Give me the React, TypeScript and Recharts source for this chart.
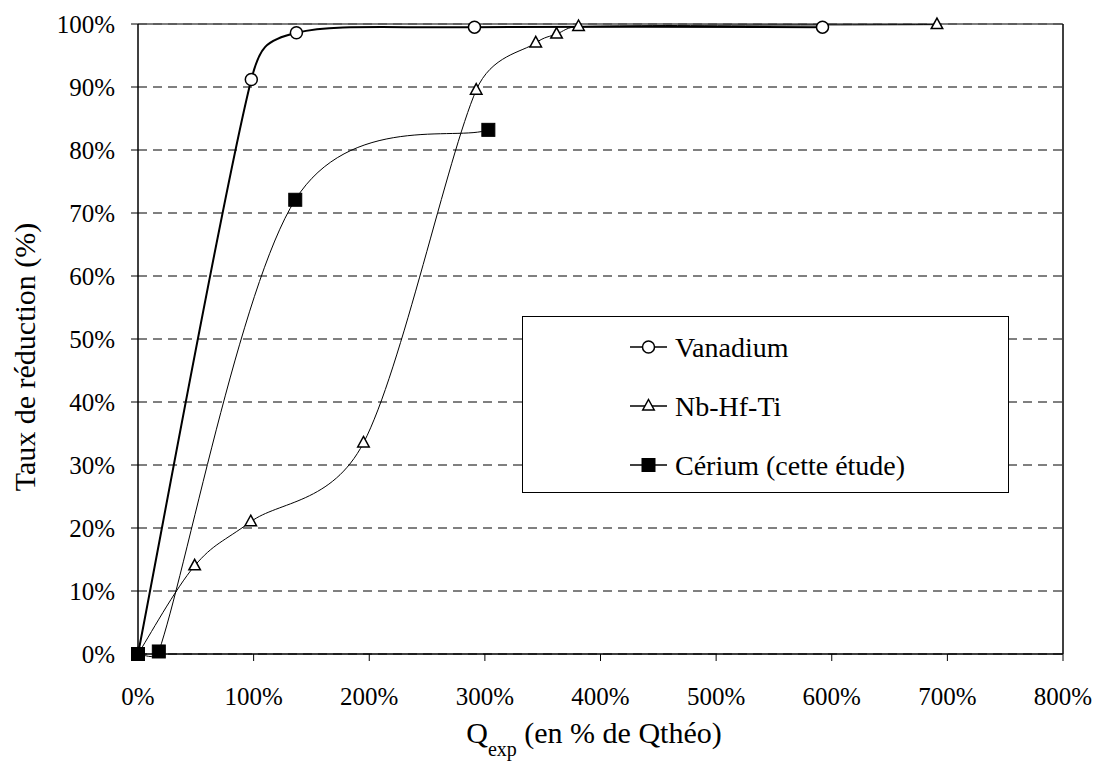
import React from 'react';
import { LineChart, Line, XAxis, YAxis, CartesianGrid, ReferenceLine, Legend } from 'recharts';

const xTicks = [0, 100, 200, 300, 400, 500, 600, 700, 800];
const yTicks = [0, 10, 20, 30, 40, 50, 60, 70, 80, 90, 100];

const vanadiumQ = [0, 98, 137, 291, 592];
const vanadiumT = [0, 91.2, 98.6, 99.5, 99.5];
const nbQ = [0, 49, 97.5, 195, 292.5, 344, 362, 381, 691];
const nbT = [0, 14, 21, 33.5, 89.5, 97, 98.4, 99.6, 99.9];
const ceQ = [0, 18, 136, 303];
const ceT = [0, 0.4, 72.1, 83.2];
const seriesNames = ['Vanadium', 'Nb-Hf-Ti', 'Cérium (cette étude)'];

const toPoints = (xs: number[], ys: number[]) => xs.map((x, i) => ({ x, y: ys[i] }));
const vanadiumData = toPoints(vanadiumQ, vanadiumT);
const nbData = toPoints(nbQ, nbT);
const ceData = toPoints(ceQ, ceT);

const FONT = 'Liberation Serif, Tinos, DejaVu Serif, Times New Roman, serif';

// Excel-like smoothing: bezier with 1/6 tangent arms, capped at half the segment length
const excelSmooth = (context: any) => {
  let pts: number[][] = [];
  const cap = (dx: number, dy: number, maxLen: number) => {
    const len = Math.hypot(dx, dy);
    if (len > maxLen && len > 0) {
      const s = maxLen / len;
      return [dx * s, dy * s];
    }
    return [dx, dy];
  };
  return {
    areaStart() {},
    areaEnd() {},
    lineStart() {
      pts = [];
    },
    lineEnd() {
      const n = pts.length;
      if (!n) return;
      context.moveTo(pts[0][0], pts[0][1]);
      for (let i = 0; i < n - 1; i++) {
        const p0 = pts[i > 0 ? i - 1 : i];
        const p1 = pts[i];
        const p2 = pts[i + 1];
        const p3 = pts[i + 2 < n ? i + 2 : i + 1];
        const seg = Math.hypot(p2[0] - p1[0], p2[1] - p1[1]);
        const a1 = cap((p2[0] - p0[0]) / 6, (p2[1] - p0[1]) / 6, seg / 2);
        const a2 = cap((p3[0] - p1[0]) / 6, (p3[1] - p1[1]) / 6, seg / 2);
        context.bezierCurveTo(p1[0] + a1[0], p1[1] + a1[1], p2[0] - a2[0], p2[1] - a2[1], p2[0], p2[1]);
      }
    },
    point(x: number, y: number) {
      pts.push([+x, +y]);
    },
  };
};

const Marker = ({ kind, cx, cy }: { kind: number; cx: number; cy: number }) => {
  if (kind === 0) {
    return <circle cx={cx} cy={cy} r={6} fill="#fff" stroke="#000" strokeWidth={1.5} />;
  }
  if (kind === 1) {
    const h = 10.5;
    const w = 11.5;
    return (
      <polygon
        points={`${cx},${cy - h * 0.62} ${cx + w / 2},${cy + h * 0.38} ${cx - w / 2},${cy + h * 0.38}`}
        fill="#fff"
        stroke="#000"
        strokeWidth={1.5}
      />
    );
  }
  return <rect x={cx - 6.5} y={cy - 6.5} width={13} height={13} fill="#000" stroke="#000" />;
};

const makeDot = (kind: number) => (props: any) => {
  const { cx, cy, index } = props;
  if (cx == null || cy == null) return <g key={`d${kind}-${index}`} />;
  return (
    <g key={`d${kind}-${index}`}>
      <Marker kind={kind} cx={cx} cy={cy} />
    </g>
  );
};

const LegendBox = () => (
  <svg width={488} height={178} style={{ display: 'block' }}>
    <rect x={0.5} y={0.5} width={486} height={176} fill="#fff" stroke="#000" strokeWidth={1} />
    {seriesNames.map((name, i) => {
      const cy = 31 + i * 59;
      return (
        <g key={name}>
          <line x1={108} y1={cy} x2={145} y2={cy} stroke="#000" strokeWidth={1.5} />
          <Marker kind={i} cx={126.5} cy={cy} />
          <text x={153} y={cy + 10} style={{ fontFamily: FONT }} fontSize={28} fill="#000">
            {name}
          </text>
        </g>
      );
    })}
  </svg>
);

export default function App() {
  return (
    <div style={{ position: 'absolute', left: 0, top: 0, width: 1095, height: 767, background: '#fff', fontFamily: FONT }}>
      <LineChart width={1095} height={767} margin={{ top: 24, right: 32, left: 0, bottom: 0 }} style={{ fontFamily: FONT }}>
        <CartesianGrid vertical={false} stroke="#000" strokeDasharray="9 6" strokeWidth={1} />
        <XAxis
          type="number"
          dataKey="x"
          domain={[0, 800]}
          ticks={xTicks}
          interval={0}
          height={113}
          tickFormatter={(v: number) => `${v}%`}
          tick={{ fontFamily: FONT, fontSize: 25, fill: '#000' }}
          tickSize={7}
          tickMargin={26}
          axisLine={{ stroke: '#000', strokeWidth: 1.5 }}
          tickLine={{ stroke: '#000', strokeWidth: 1 }}
          label={{
            content: () => (
              <text x={594} y={743} textAnchor="middle" style={{ fontFamily: FONT }} fontSize={30} fill="#000">
                <tspan>Q</tspan>
                <tspan dy={13} fontSize={20}>exp</tspan>
                <tspan dy={-13}> (en % de Qthéo)</tspan>
              </text>
            ),
          }}
        />
        <YAxis
          type="number"
          dataKey="y"
          domain={[0, 100]}
          ticks={yTicks}
          interval={0}
          width={138}
          tickFormatter={(v: number) => `${v}%`}
          tick={{ fontFamily: FONT, fontSize: 25, fill: '#000' }}
          tickSize={7}
          tickMargin={16}
          axisLine={{ stroke: '#000', strokeWidth: 1.5 }}
          tickLine={{ stroke: '#000', strokeWidth: 1 }}
          label={{
            content: () => (
              <text
                x={35}
                y={357}
                textAnchor="middle"
                transform="rotate(-90 35 357)"
                style={{ fontFamily: FONT }}
                fontSize={30}
                fill="#000"
              >
                Taux de réduction (%)
              </text>
            ),
          }}
        />
        <ReferenceLine y={100} stroke="#555" strokeWidth={1.5} />
        <ReferenceLine x={800} stroke="#000" strokeWidth={1.5} />
        <Line
          data={vanadiumData}
          dataKey="y"
          name={seriesNames[0]}
          type={excelSmooth as any}
          stroke="#000"
          strokeWidth={2}
          dot={makeDot(0)}
          activeDot={false}
          isAnimationActive={false}
        />
        <Line
          data={nbData}
          dataKey="y"
          name={seriesNames[1]}
          type={excelSmooth as any}
          stroke="#000"
          strokeWidth={1}
          dot={makeDot(1)}
          activeDot={false}
          isAnimationActive={false}
        />
        <Line
          data={ceData}
          dataKey="y"
          name={seriesNames[2]}
          type={excelSmooth as any}
          stroke="#000"
          strokeWidth={1}
          dot={makeDot(2)}
          activeDot={false}
          isAnimationActive={false}
        />
        <Legend
          layout="horizontal"
          verticalAlign="middle"
          align="center"
          wrapperStyle={{ position: 'absolute', left: 522, top: 316, width: 488, height: 178, margin: 0, padding: 0 }}
          content={() => <LegendBox />}
        />
      </LineChart>
    </div>
  );
}
